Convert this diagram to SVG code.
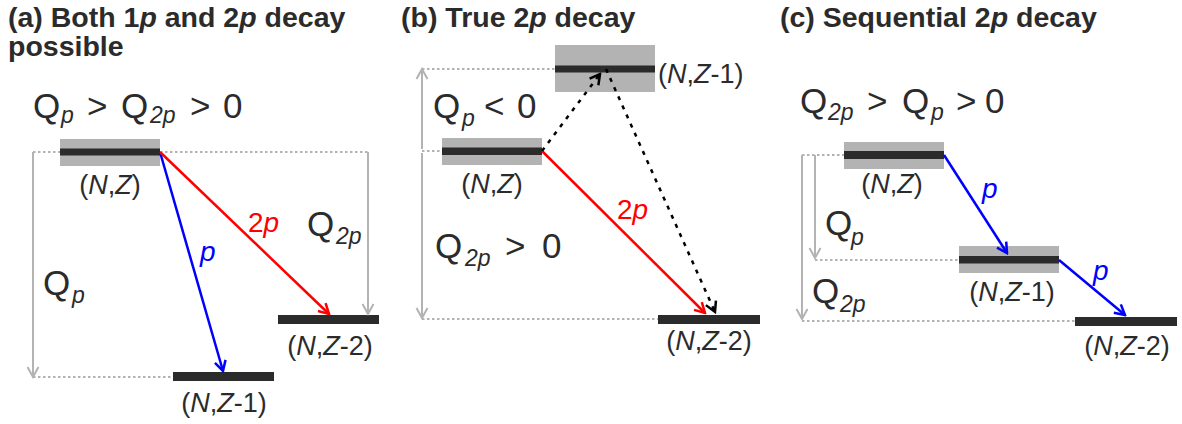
<svg xmlns="http://www.w3.org/2000/svg" width="1182" height="424" viewBox="0 0 1182 424">
<defs>
<style>
text{font-family:"Liberation Sans",Arial,sans-serif;fill:#2b2b2b}
.title{font-size:28.5px;font-weight:bold}
.q{font-size:35px}
.sub{font-size:23px;font-style:italic}
.lbl{font-size:27px}
.it{font-style:italic}
.band{fill:#b3b3b3}
.bar{fill:#2b2b2b}
.dot{stroke:#b3b3b3;stroke-width:2;stroke-dasharray:2.5 2.5;fill:none}
.garr{stroke:#b3b3b3;stroke-width:2;fill:none;marker-end:url(#mg)}
.blue{stroke:#0000ff;stroke-width:2.5;fill:none;marker-end:url(#mb)}
.red{stroke:#ff0000;stroke-width:2.5;fill:none;marker-end:url(#mr)}
.blk{stroke:#000;stroke-width:2.5;stroke-dasharray:4 6;fill:none;marker-end:url(#mk)}
</style>
<marker id="mg" markerUnits="userSpaceOnUse" markerWidth="14" markerHeight="14" viewBox="0 0 14 14" refX="12" refY="7" orient="auto"><path d="M2,1.5 L12,7 L2,12.5" fill="none" stroke="#b3b3b3" stroke-width="2"/></marker>
<marker id="mb" markerUnits="userSpaceOnUse" markerWidth="14" markerHeight="14" viewBox="0 0 14 14" refX="12" refY="7" orient="auto"><path d="M2,1.5 L12,7 L2,12.5" fill="none" stroke="#0000ff" stroke-width="2.5"/></marker>
<marker id="mr" markerUnits="userSpaceOnUse" markerWidth="14" markerHeight="14" viewBox="0 0 14 14" refX="12" refY="7" orient="auto"><path d="M2,1.5 L12,7 L2,12.5" fill="none" stroke="#ff0000" stroke-width="2.5"/></marker>
<marker id="mk" markerUnits="userSpaceOnUse" markerWidth="14" markerHeight="14" viewBox="0 0 14 14" refX="12" refY="7" orient="auto"><path d="M2,1.5 L12,7 L2,12.5" fill="none" stroke="#000" stroke-width="2.5"/></marker>
</defs>

<g id="titles">
<text class="title" x="8" y="27">(a) Both 1<tspan class="it">p</tspan> and 2<tspan class="it">p</tspan> decay</text>
<text class="title" x="8" y="56">possible</text>
<text class="title" x="401" y="27">(b) True 2<tspan class="it">p</tspan> decay</text>
<text class="title" x="780" y="27">(c) Sequential 2<tspan class="it">p</tspan> decay</text>
</g>

<g id="conditions">
<text class="q" x="33" y="118">Q</text><text class="sub" x="61" y="123">p</text>
<text class="q" x="87" y="118">&gt;</text>
<text class="q" x="121" y="118">Q</text><text class="sub" x="150" y="123">2p</text>
<text class="q" x="190" y="118">&gt;</text>
<text class="q" x="223" y="118">0</text>

<text class="q" x="433" y="118">Q</text><text class="sub" x="462" y="126">p</text>
<text class="q" x="484" y="118">&lt;</text>
<text class="q" x="517" y="118">0</text>

<text class="q" x="435" y="258">Q</text><text class="sub" x="465" y="266">2p</text>
<text class="q" x="505" y="258">&gt;</text>
<text class="q" x="542" y="258">0</text>

<text class="q" x="800" y="113">Q</text><text class="sub" x="828" y="120">2p</text>
<text class="q" x="867" y="113">&gt;</text>
<text class="q" x="902" y="113">Q</text><text class="sub" x="931" y="120">p</text>
<text class="q" x="956" y="113">&gt;</text>
<text class="q" x="985" y="113">0</text>
</g>

<g id="a-NZ">
<rect class="band" x="60" y="139" width="100" height="27"/>
<rect class="bar" x="60" y="148.5" width="100" height="7"/>
<text class="lbl" x="110" y="194" text-anchor="middle">(<tspan class="it">N</tspan>,<tspan class="it">Z</tspan>)</text>
</g>
<g id="a-NZ1">
<rect class="bar" x="173" y="372" width="101" height="9"/>
<text class="lbl" x="224" y="412" text-anchor="middle">(<tspan class="it">N</tspan>,<tspan class="it">Z</tspan>-1)</text>
</g>
<g id="a-NZ2">
<rect class="bar" x="278" y="315" width="101" height="9"/>
<text class="lbl" x="330" y="355" text-anchor="middle">(<tspan class="it">N</tspan>,<tspan class="it">Z</tspan>-2)</text>
</g>
<g id="a-labels">
<text class="lbl it" x="200" y="261" style="fill:#0000ff;font-size:28px">p</text>
<text class="lbl" x="248" y="232" style="fill:#ff0000;font-size:28px">2<tspan class="it">p</tspan></text>
<text class="q" x="307" y="236">Q</text><text class="sub" x="336" y="244">2p</text>
<text class="q" x="43" y="295">Q</text><text class="sub" x="72" y="303">p</text>
</g>

<g id="b-NZ1">
<rect class="band" x="555" y="45" width="100" height="47"/>
<rect class="bar" x="555" y="65.5" width="100" height="7"/>
<text class="lbl" x="658" y="83">(<tspan class="it">N</tspan>,<tspan class="it">Z</tspan>-1)</text>
</g>
<g id="b-NZ">
<rect class="band" x="442" y="138" width="100" height="27"/>
<rect class="bar" x="442" y="147.5" width="100" height="7.5"/>
<text class="lbl" x="492" y="193" text-anchor="middle">(<tspan class="it">N</tspan>,<tspan class="it">Z</tspan>)</text>
</g>
<g id="b-NZ2">
<rect class="bar" x="658" y="315" width="102" height="9"/>
<text class="lbl" x="709" y="350" text-anchor="middle">(<tspan class="it">N</tspan>,<tspan class="it">Z</tspan>-2)</text>
</g>
<g id="b-labels">
<text class="lbl" x="617" y="219" style="fill:#ff0000;font-size:28px">2<tspan class="it">p</tspan></text>
</g>

<g id="c-NZ">
<rect class="band" x="844" y="142" width="100" height="27"/>
<rect class="bar" x="844" y="151" width="100" height="8"/>
<text class="lbl" x="892" y="193" text-anchor="middle">(<tspan class="it">N</tspan>,<tspan class="it">Z</tspan>)</text>
</g>
<g id="c-NZ1">
<rect class="band" x="959" y="246" width="100" height="27"/>
<rect class="bar" x="959" y="256" width="100" height="7.5"/>
<text class="lbl" x="1012" y="301" text-anchor="middle">(<tspan class="it">N</tspan>,<tspan class="it">Z</tspan>-1)</text>
</g>
<g id="c-NZ2">
<rect class="bar" x="1075" y="317" width="102" height="9"/>
<text class="lbl" x="1127" y="355" text-anchor="middle">(<tspan class="it">N</tspan>,<tspan class="it">Z</tspan>-2)</text>
</g>
<g id="c-labels">
<text class="lbl it" x="982" y="198" style="fill:#0000ff;font-size:28px">p</text>
<text class="lbl it" x="1093" y="280" style="fill:#0000ff;font-size:28px">p</text>
<text class="q" x="825" y="235">Q</text><text class="sub" x="851" y="245">p</text>
<text class="q" x="812" y="303">Q</text><text class="sub" x="840" y="312">2p</text>
</g>

<g id="connectors">
<!-- panel a -->
<line class="dot" x1="33" y1="152" x2="60" y2="152"/>
<line class="dot" x1="160" y1="152" x2="368" y2="152"/>
<line class="dot" x1="33" y1="377" x2="173" y2="377"/>
<line class="garr" x1="33" y1="152" x2="33" y2="377"/>
<line class="garr" x1="368" y1="152" x2="368" y2="314"/>
<line class="blue" x1="160" y1="152" x2="223" y2="371"/>
<line class="red" x1="160" y1="152" x2="329" y2="314"/>
<!-- panel b -->
<line class="dot" x1="422" y1="69" x2="555" y2="69"/>
<line class="dot" x1="422" y1="151" x2="442" y2="151"/>
<line class="dot" x1="422" y1="319" x2="658" y2="319"/>
<line class="garr" x1="422" y1="149" x2="422" y2="69"/>
<line class="garr" x1="422" y1="153" x2="422" y2="318"/>
<line class="red" x1="542" y1="151" x2="705" y2="313"/>
<line class="blk" x1="542" y1="151" x2="600" y2="74"/>
<line class="blk" x1="606" y1="69" x2="715" y2="312"/>
<!-- panel c -->
<line class="dot" x1="802" y1="155" x2="844" y2="155"/>
<line class="dot" x1="815" y1="260" x2="959" y2="260"/>
<line class="dot" x1="802" y1="321" x2="1075" y2="321"/>
<line class="garr" x1="815" y1="155" x2="815" y2="258"/>
<line class="garr" x1="802" y1="155" x2="802" y2="319"/>
<line class="blue" x1="944" y1="155" x2="1007" y2="253"/>
<line class="blue" x1="1059" y1="260" x2="1125" y2="315"/>
</g>
</svg>
